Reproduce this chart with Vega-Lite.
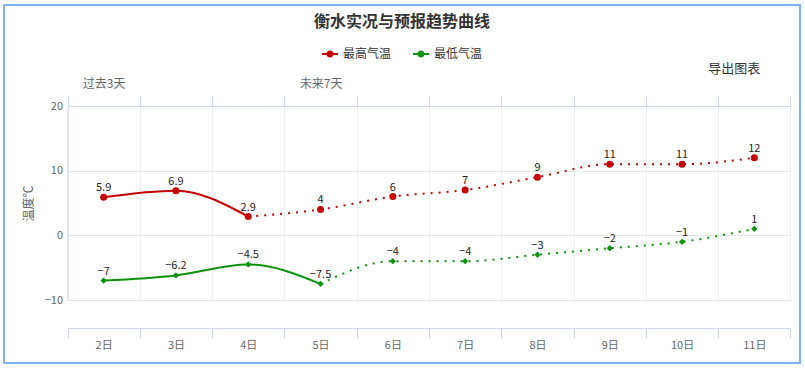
{
  "$schema": "https://vega.github.io/schema/vega-lite/v6.json",
  "width": 796,
  "height": 358,
  "autosize": {"type": "none"},
  "padding": {"left": 4, "top": 5, "right": 5, "bottom": 6},
  "title": {"text": "衡水实况与预报趋势曲线", "anchor": "middle", "offset": -25, "font": "Noto Sans CJK SC", "fontSize": 16, "fontWeight": "bold", "color": "#333333"},
  "config": {
    "view": {"stroke": "#7cb5ec", "strokeWidth": 2},
    "font": "Noto Sans CJK SC",
    "legend": {
      "orient": "none", "legendX": 318, "legendY": 41, "direction": "horizontal",
      "labelFont": "Noto Sans CJK SC", "labelFontSize": 12, "labelColor": "#333333",
      "columnPadding": 21, "labelOffset": 5, "title": null
    }
  },
  "data": {"values": [
    {"day": "2日", "idx": 2, "最高气温": 5.9, "最低气温": -7},
    {"day": "3日", "idx": 3, "最高气温": 6.9, "最低气温": -6.2},
    {"day": "4日", "idx": 4, "最高气温": 2.9, "最低气温": -4.5},
    {"day": "5日", "idx": 5, "最高气温": 4, "最低气温": -7.5},
    {"day": "6日", "idx": 6, "最高气温": 6, "最低气温": -4},
    {"day": "7日", "idx": 7, "最高气温": 7, "最低气温": -4},
    {"day": "8日", "idx": 8, "最高气温": 9, "最低气温": -3},
    {"day": "9日", "idx": 9, "最高气温": 11, "最低气温": -2},
    {"day": "10日", "idx": 10, "最高气温": 11, "最低气温": -1},
    {"day": "11日", "idx": 11, "最高气温": 12, "最低气温": 1}
  ]},
  "transform": [{"fold": ["最高气温", "最低气温"], "as": ["series", "value"]}],
  "encoding": {
    "x": {"field": "day", "type": "nominal", "axis": null,
      "scale": {"domain": ["2日","3日","4日","5日","6日","7日","8日","9日","10日","11日"], "range": [63.5, 786.5], "paddingInner": 0, "paddingOuter": 0}},
    "y": {"field": "value", "type": "quantitative",
      "scale": {"domain": [-10, 20], "range": [295, 101], "nice": false, "zero": false},
      "axis": {"title": "温度℃", "values": [-10, 0, 10, 20], "offset": -63.5, "domain": true, "domainColor": "#ccd6eb", "ticks": false, "tickSize": 0,
        "labelPadding": 5, "labelFontSize": 11, "labelColor": "#666666", "labelFont": "Noto Sans CJK SC",
        "grid": true, "gridColor": "#e6e6e6", "titleFont": "Noto Sans CJK SC", "titleFontSize": 12, "titleFontWeight": "normal", "titleColor": "#666666", "titlePadding": 9}},
    "color": {"field": "series", "type": "nominal",
      "legend": {"symbolType": "M-1,-0.12H1V0.12H-1Z M0.45,0A0.45,0.45,0,1,1,-0.45,0A0.45,0.45,0,1,1,0.45,0Z", "symbolSize": 256, "symbolStrokeWidth": 0, "symbolOpacity": 1},
      "scale": {"domain": ["最高气温", "最低气温"], "range": ["#c40000", "#0a930a"]}}
  },
  "layer": [
    {
      "transform": [{"filter": "(datum.series === '最高气温' && datum.idx <= 4) || (datum.series === '最低气温' && datum.idx <= 5)"}],
      "mark": {"type": "line", "interpolate": "monotone", "strokeWidth": 2},
      "encoding": {
        "x": {"field": "day", "type": "nominal",
          "axis": {"orient": "bottom", "offset": -35, "title": null, "tickBand": "extent", "tickSize": 10, "tickColor": "#ccd6eb", "domainColor": "#ccd6eb",
            "labelAngle": 0, "labelPadding": 1, "labelFontSize": 11, "labelColor": "#666666", "labelFont": "Noto Sans CJK SC", "grid": false}},
        "detail": {"field": "series"}
      }
    },
    {
      "transform": [{"filter": "(datum.series === '最高气温' && datum.idx >= 4) || (datum.series === '最低气温' && datum.idx >= 5)"}],
      "mark": {"type": "line", "interpolate": "monotone", "strokeWidth": 2, "strokeDash": [2, 6]},
      "encoding": {
        "x": {"field": "day", "type": "nominal",
          "axis": {"orient": "top", "offset": -101, "title": null, "tickBand": "extent", "tickSize": 10, "tickColor": "#ccd6eb", "domainColor": "#ccd6eb",
            "labelAngle": 0, "labelPadding": 6, "labelFontSize": 12, "labelColor": "#666666", "labelFont": "Noto Sans CJK SC",
            "labelExpr": "datum.value === '2日' ? '过去3天' : (datum.value === '5日' ? '未来7天' : '')",
            "grid": true, "gridColor": "#f0f0f0"}},
        "detail": {"field": "series"}
      }
    },
    {
      "transform": [{"filter": "datum.series === '最高气温'"}],
      "mark": {"type": "point", "filled": true, "opacity": 1, "shape": "circle", "size": 49}
    },
    {
      "transform": [{"filter": "datum.series === '最低气温'"}],
      "mark": {"type": "point", "filled": true, "opacity": 1, "shape": "diamond", "size": 40}
    },
    {
      "mark": {"type": "text", "baseline": "bottom", "dy": -4, "fontSize": 11, "color": "#222222", "font": "Noto Sans CJK SC"},
      "encoding": {
        "text": {"field": "value", "type": "quantitative"},
        "color": {"value": "#222222"}
      }
    },
    {
      "transform": [{"filter": "datum.idx === 11 && datum.series === '最高气温'"}],
      "mark": {"type": "text", "text": "导出图表", "align": "right", "baseline": "middle", "dx": 6, "fontSize": 13, "color": "#333333", "font": "Noto Sans CJK SC"},
      "encoding": {
        "y": {"datum": 25.7, "type": "quantitative"},
        "color": {"value": "#333333"}
      }
    }
  ],
  "resolve": {"axis": {"x": "independent"}}
}
